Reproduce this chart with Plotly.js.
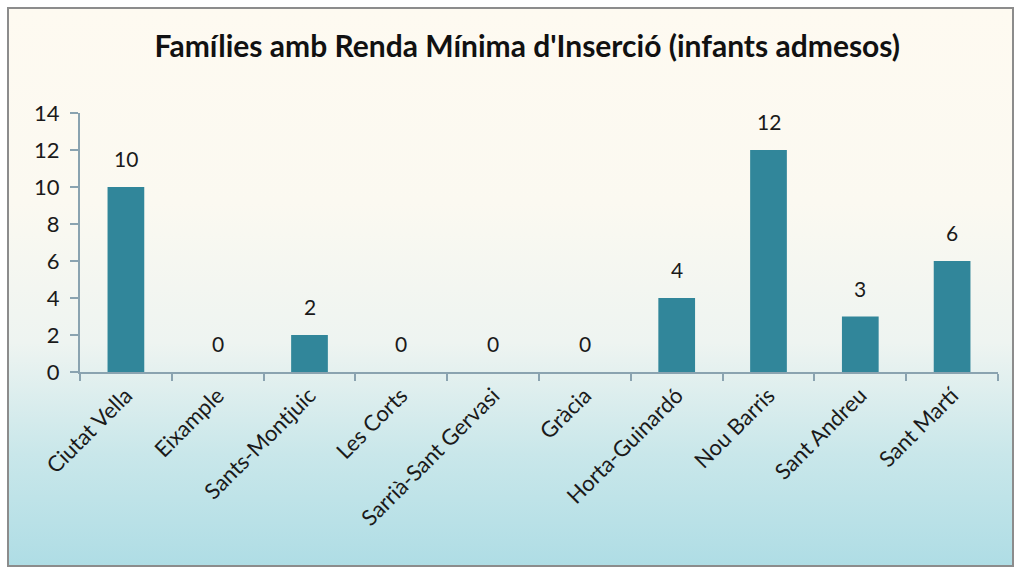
<!DOCTYPE html>
<html><head><meta charset="utf-8">
<script src="https://cdn.plot.ly/plotly-3.0.1.min.js"></script>
<style>
html,body{margin:0;padding:0;background:#fff;}
#wrap{position:absolute;left:0;top:0;width:1018px;height:570px;}
#frame{position:absolute;left:7px;top:7px;width:1003px;height:556px;border:2px solid #8c8c8c;
background:linear-gradient(to bottom,#fefaf1 0%,#fbf9f1 35%,#eef4f1 60%,#c9e7ea 80%,#afdde5 100%);}
#chart{position:absolute;left:0;top:0;width:1018px;height:570px;}
</style></head>
<body><div id="wrap"><div id="frame"></div><div id="chart"></div></div>
<script>
const categories=["Ciutat Vella","Eixample","Sants-Montjuic","Les Corts","Sarrià-Sant Gervasi","Gràcia","Horta-Guinardó","Nou Barris","Sant Andreu","Sant Martí"];
const values=[10,0,2,0,0,0,4,12,3,6];
const yTicks=[0,2,4,6,8,10,12,14];
const font="Lato, 'Open Sans', sans-serif";
const labelAnns=categories.map((c,i)=>({x:c,y:values[i],xref:'x',yref:'y',text:String(values[i]),showarrow:false,
 yanchor:'bottom',yshift:14,font:{family:font,size:21,color:'#1a1a1a'}}));
Plotly.newPlot('chart',[{
 type:'bar',x:categories,y:values,
 marker:{color:'#31869a',line:{width:0}},hoverinfo:'skip'
}],{
 width:1018,height:570,margin:{l:80,r:20,t:113,b:198},
 paper_bgcolor:'rgba(0,0,0,0)',plot_bgcolor:'rgba(0,0,0,0)',
 bargap:0.6,showlegend:false,annotations:labelAnns,
 title:{text:"<b>Famílies amb Renda Mínima d'Inserció (infants admesos)</b>",x:0.518,xanchor:'center',y:0.918,yanchor:'middle',font:{family:font,size:30,color:'#111'}},
 xaxis:{type:'category',tickangle:-45,tickfont:{family:font,size:22,color:'#1a1a1a'},
  showline:true,linecolor:'#8aa3b0',linewidth:2,ticks:'outside',tickson:'boundaries',ticklen:7,tickcolor:'#8aa3b0',tickwidth:2,showgrid:false},
 yaxis:{range:[0,14],tickvals:yTicks,ticktext:yTicks.map(String),tickfont:{family:font,size:22,color:'#1a1a1a'},ticklabelstandoff:6,
  showline:true,linecolor:'#8aa3b0',linewidth:2,ticks:'outside',ticklen:8,tickcolor:'#8aa3b0',tickwidth:2,showgrid:false,zeroline:false}
},{displayModeBar:false,staticPlot:true});
</script></body></html>
